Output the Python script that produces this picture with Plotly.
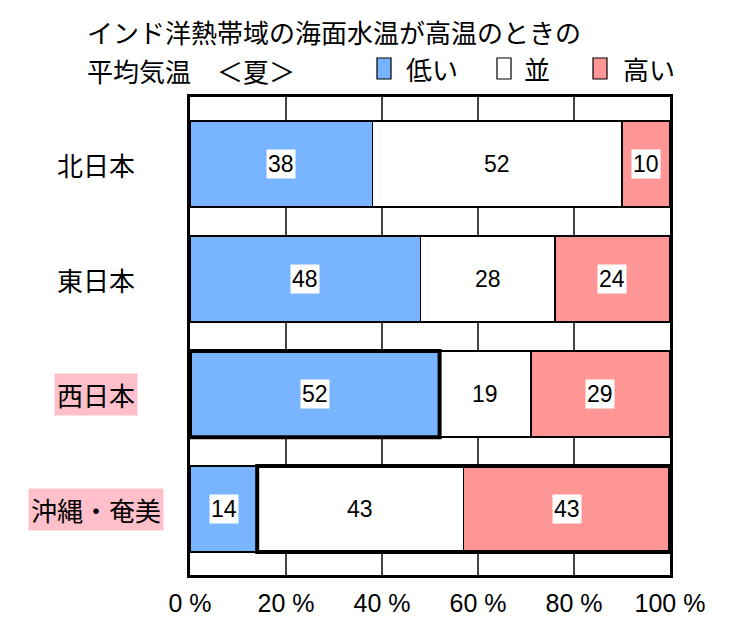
import plotly.graph_objects as go

regions = ["北日本", "東日本", "西日本", "沖縄・奄美"]
low = [38, 48, 52, 14]
normal = [52, 28, 19, 43]
high = [10, 24, 29, 43]
series_names = ["低い", "並", "高い"]
series_colors = ["#78b4ff", "#ffffff", "#ff9696"]
x_ticks = [0, 20, 40, 60, 80, 100]
x_tick_labels = ["0 %", "20 %", "40 %", "60 %", "80 %", "100 %"]
highlighted_regions = ["西日本", "沖縄・奄美"]
title_lines = ["インド洋熱帯域の海面水温が高温のときの", "平均気温　＜夏＞"]
# emphasised boxes: (region index, first series index, last series index)
emphasis = [(2, 0, 0), (3, 1, 2)]

CJK = "Noto Sans CJK JP"
NUM = "Liberation Sans, Arial, sans-serif"
BAR_W = 0.75
CJK_SIZE = 26

# plot area geometry in pixels
L, R, T, B = 190, 670, 97, 575
W, H = R - L, B - T
def px_x(p):
    return (p - L) / W
def px_y(p):
    return (B - p) / H

series = [low, normal, high]
fig = go.Figure()
for name, vals, col in zip(series_names, series, series_colors):
    fig.add_trace(go.Bar(
        y=regions, x=vals, name=name, orientation="h",
        marker=dict(color=col, line=dict(color="black", width=1.5)),
        width=BAR_W, showlegend=False, hoverinfo="x+y+name",
    ))

annotations = []
shapes = []
# value labels
for i, reg in enumerate(regions):
    start = 0
    for s, vals in enumerate(series):
        v = vals[i]
        annotations.append(dict(
            x=start + v / 2, y=reg, xref="x", yref="y", text=str(v),
            showarrow=False, font=dict(family=NUM, size=23, color="black"),
            bgcolor=None if series_colors[s] == "#ffffff" else "white",
            borderpad=1,
        ))
        start += v

# category labels
for reg in regions:
    annotations.append(dict(
        x=px_x(95.5), y=reg, xref="paper", yref="y", text=reg,
        showarrow=False, xanchor="center", yanchor="middle",
        font=dict(family=CJK, size=CJK_SIZE, color="black"),
        bgcolor="#ffc0cb" if reg in highlighted_regions else None,
        borderpad=2,
    ))

# emphasis boxes computed from data
for idx, s0, s1 in emphasis:
    x0 = sum(series[k][idx] for k in range(s0))
    x1 = sum(series[k][idx] for k in range(s1 + 1))
    shapes.append(dict(
        type="rect", xref="x", yref="y", x0=x0, x1=x1,
        y0=idx - BAR_W / 2, y1=idx + BAR_W / 2,
        line=dict(color="black", width=4), fillcolor="rgba(0,0,0,0)",
    ))

# title
for line, py in zip(title_lines, [32, 71]):
    annotations.append(dict(x=px_x(85), y=px_y(py), xref="paper", yref="paper",
                            text=line, showarrow=False, xanchor="left",
                            yanchor="middle",
                            font=dict(family=CJK, size=CJK_SIZE, color="black")))

# manual legend
legend_icon_x = [377, 497, 593]
legend_text_x = [404, 522, 621]
for name, col, ix, tx in zip(series_names, series_colors, legend_icon_x, legend_text_x):
    shapes.append(dict(type="rect", xref="paper", yref="paper",
                       x0=px_x(ix), x1=px_x(ix + 14), y0=px_y(79), y1=px_y(58),
                       fillcolor=col, line=dict(color="black", width=1.2)))
    annotations.append(dict(x=px_x(tx), y=px_y(69), xref="paper", yref="paper",
                            text=name, showarrow=False, xanchor="left",
                            yanchor="middle",
                            font=dict(family=CJK, size=CJK_SIZE, color="black")))

n = len(regions)
fig.update_layout(
    barmode="stack",
    width=750, height=640,
    margin=dict(l=L, r=750 - R, t=T, b=640 - B, pad=0),
    paper_bgcolor="white", plot_bgcolor="white",
    annotations=annotations, shapes=shapes,
    xaxis=dict(range=[0, 100], tickmode="array", tickvals=x_ticks,
               ticktext=x_tick_labels,
               tickfont=dict(family=NUM, size=25, color="black"),
               showgrid=True, gridcolor="#444", gridwidth=1.5,
               showline=True, linecolor="black", linewidth=2.5, mirror=True,
               ticks="", zeroline=False, ticklabelstandoff=4),
    yaxis=dict(range=[n - 1 + 0.574, -0.583], showticklabels=False,
               showgrid=False, showline=True, linecolor="black",
               linewidth=2.5, mirror=True, ticks="", zeroline=False),
    showlegend=False,
)

fig.write_html("out.html")
